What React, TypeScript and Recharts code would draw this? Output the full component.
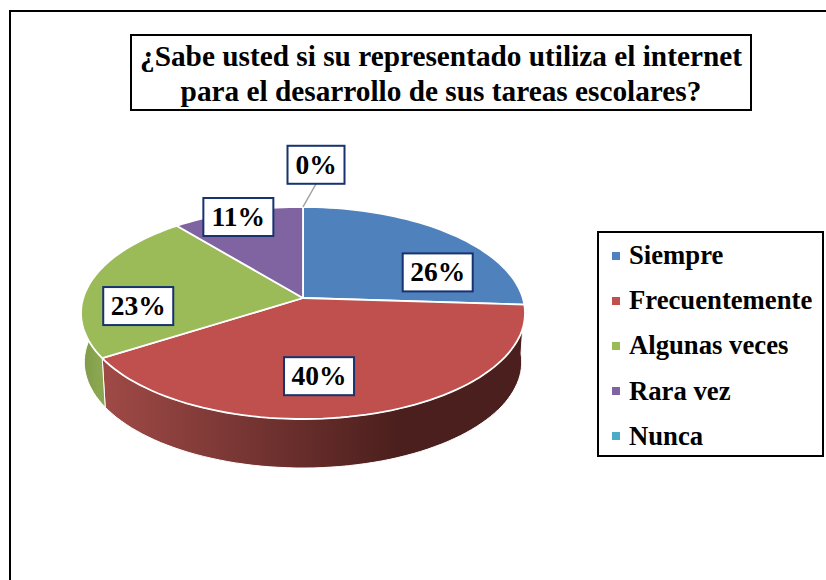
import { Legend, Pie, PieChart } from "recharts";

const TITLE_LINES = [
  "¿Sabe usted si su representado utiliza el internet",
  "para el desarrollo de sus tareas escolares?",
];
const categories = ["Siempre", "Frecuentemente", "Algunas veces", "Rara vez", "Nunca"];
const percents = [26, 40, 23, 11, 0];
const colors = ["#4f81bd", "#bf504d", "#9bbb59", "#8064a2", "#4bacc6"];
const wallStops = [
  ["#2f4d71", "#2f4d71"],
  ["#a04a47", "#4b1f1d"],
  ["#7f9a48", "#8aa650"],
  ["#4d3c61", "#4d3c61"],
  ["#2d6777", "#2d6777"],
];
// hand placed data labels, relative to the slice's middle
const labelNudges = [
  [41, 16],
  [-21, 10],
  [-32, 18],
  [-22, -25],
  [13, -74],
];

const data = categories.map((name, i) => ({
  name,
  value: percents[i],
  fill: colors[i],
}));

const SERIF = '"Liberation Serif", serif';
const RAD = Math.PI / 180;
const TILT = 0.1415;
const DEPTH = 49;

// circle seen in perspective: the far side is squeezed, the near side opens up
function project(cx: number, cy: number, r: number, angle: number, frac = 1) {
  const u = Math.cos(angle * RAD) * frac;
  const v = Math.sin(angle * RAD) * frac;
  const w = 1 + TILT * v;
  return { x: cx + (r * 0.99 * u) / w, y: cy - (r * 0.468 * v) / w };
}

function sampleAngles(start: number, end: number) {
  const steps = Math.max(2, Math.ceil(Math.abs(end - start) / 2));
  return Array.from({ length: steps + 1 }, (_, i) => start + ((end - start) * i) / steps);
}

function toPath(pts: { x: number; y: number }[]) {
  return pts.map((p, i) => `${i ? "L" : "M"}${p.x.toFixed(1)} ${p.y.toFixed(1)}`).join(" ") + " Z";
}

function Slice3D(props: any) {
  const { cx, cy, outerRadius, startAngle, endAngle, fill, name } = props;
  if (startAngle === endAngle) return null;
  const index = categories.indexOf(name);
  const angles = sampleAngles(startAngle, endAngle);
  const rim = angles.map(a => project(cx, cy, outerRadius, a));
  const front = angles.filter(a => Math.sin(a * RAD) < 0.3);
  const wallTop = front.map(a => project(cx, cy, outerRadius, a));
  const wallBottom = wallTop
    .map(p => ({ x: cx + (p.x - cx) * 0.985, y: p.y + DEPTH }))
    .reverse();
  const gradId = `wall-${index}`;
  return (
    <g>
      <defs>
        <linearGradient id={gradId} x1="0" y1="0" x2="1" y2="0">
          <stop offset="0" stopColor={wallStops[index][0]} />
          <stop offset="0.7" stopColor={wallStops[index][1]} />
          <stop offset="1" stopColor={wallStops[index][1]} />
        </linearGradient>
      </defs>
      {front.length > 1 && (
        <path d={toPath([...wallTop, ...wallBottom])} fill={`url(#${gradId})`} stroke="#fff" strokeWidth={1} />
      )}
      <path
        d={toPath([{ x: cx, y: cy }, ...rim])}
        fill={fill}
        stroke="#fff"
        strokeWidth={1.8}
        strokeLinejoin="round"
      />
    </g>
  );
}

function SliceLabel(props: any) {
  const { cx, cy, outerRadius, midAngle, value, index } = props;
  const mid = project(cx, cy, outerRadius, midAngle, 0.62);
  const x = mid.x + labelNudges[index][0];
  const y = mid.y + labelNudges[index][1];
  const text = `${value}%`;
  const width = text.length > 2 ? 70 : 57;
  const edge = project(cx, cy, outerRadius, midAngle);
  return (
    <g>
      {value === 0 && (
        <line x1={edge.x} y1={edge.y} x2={x} y2={y + 19} stroke="#a6a6a6" strokeWidth={1.5} />
      )}
      <rect
        x={x - width / 2}
        y={y - 19}
        width={width}
        height={38}
        fill="#fff"
        stroke="#17326f"
        strokeWidth={2}
      />
      <text
        x={x}
        y={y + 9}
        textAnchor="middle"
        fontFamily={SERIF}
        fontWeight="bold"
        fontSize={27.5}
        fill="#000"
      >
        {text}
      </text>
    </g>
  );
}

function LegendBox({ payload }: any) {
  return (
    <div
      style={{
        boxSizing: "border-box",
        width: 227,
        height: 226,
        border: "2px solid #000",
        background: "#fff",
      }}
    >
      {(payload ?? []).map((item: any) => (
        <div
          key={item.value}
          style={{
            display: "flex",
            alignItems: "center",
            height: 45.2,
            paddingLeft: 13,
            fontFamily: SERIF,
            fontWeight: "bold",
            fontSize: 26.7,
            color: "#000",
            whiteSpace: "nowrap",
          }}
        >
          <span style={{ width: 8, height: 8, marginRight: 9, background: item.color }} />
          {item.value}
        </div>
      ))}
    </div>
  );
}

export default function App() {
  return (
    <div style={{ position: "absolute", left: 0, top: 0, width: 826, height: 580, overflow: "hidden", background: "#fff" }}>
      <div
        style={{
          position: "absolute",
          left: 9,
          top: 10,
          width: 817,
          height: 570,
          borderTop: "2px solid #000",
          borderLeft: "2px solid #000",
        }}
      />
      <PieChart
        width={826}
        height={580}
        margin={{ top: 0, right: 0, bottom: 0, left: 0 }}
        style={{ position: "absolute", left: 0, top: 0 }}
      >
        <Pie
          data={data}
          dataKey="value"
          nameKey="name"
          cx={303}
          cy={298}
          outerRadius={222}
          startAngle={90}
          endAngle={-270}
          shape={Slice3D}
          label={SliceLabel}
          labelLine={false}
          isAnimationActive={false}
        />
        <Legend
          layout="vertical"
          itemSorter={null}
          content={<LegendBox />}
          wrapperStyle={{ position: "absolute", left: 597, top: 231, width: 227, height: 226 }}
        />
      </PieChart>
      <div
        style={{
          position: "absolute",
          boxSizing: "border-box",
          left: 130,
          top: 34,
          width: 622,
          height: 77,
          border: "2px solid #000",
          background: "#fff",
          textAlign: "center",
          fontFamily: SERIF,
          fontWeight: "bold",
          fontSize: 29.3,
          lineHeight: "35px",
          paddingTop: 3,
          color: "#000",
          whiteSpace: "nowrap",
        }}
      >
        {TITLE_LINES.map(line => (
          <div key={line}>{line}</div>
        ))}
      </div>
    </div>
  );
}
